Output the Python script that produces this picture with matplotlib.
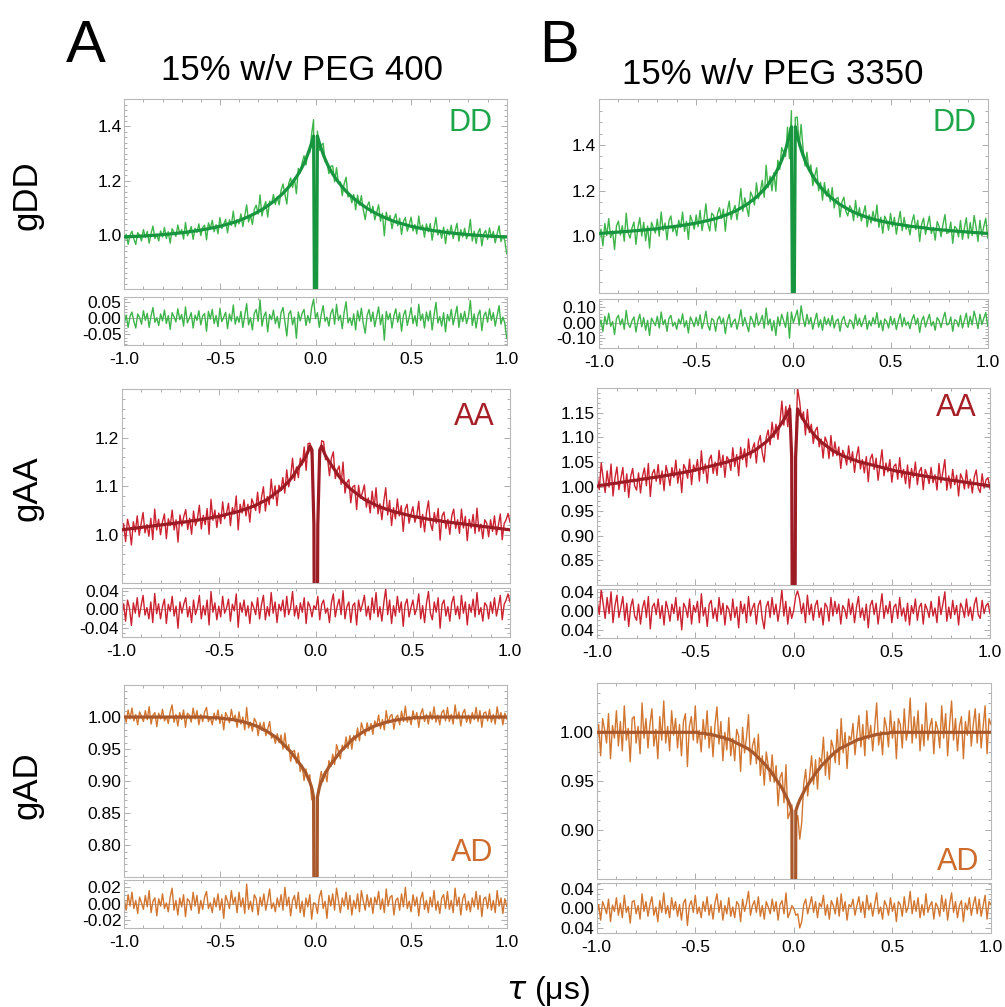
# -*- coding:utf-8 -*-
import numpy as np
import matplotlib.pyplot as plt
from matplotlib.ticker import MultipleLocator, FixedLocator, FixedFormatter, FormatStrFormatter

plt.rcParams['font.family'] = ['Liberation Sans', 'DejaVu Sans']
plt.rcParams['axes.unicode_minus'] = False  # 刻度上用普通的 "-"

# ---------------- 数据 ----------------
# 读图得到的值, 单位 1/1000: 拟合曲线 = 1 + ex/1000, 残差 = res/1000, 数据 = 拟合 + 残差
tau = np.linspace(-1, 1, 201)  # us, 步长 0.01

# DD, 15% PEG 400
ex_dd_a = [-7, -7, -6, -6, -6, -5, -5, -5, -4, -4,
           -4, -3, -3, -2, -2, -1, -1, 0, 0, 1,
           1, 2, 3, 3, 4, 5, 5, 6, 7, 8,
           8, 9, 10, 11, 12, 13, 14, 15, 16, 17,
           18, 20, 21, 22, 23, 25, 26, 28, 29, 31,
           32, 34, 36, 38, 40, 42, 44, 46, 48, 51,
           53, 56, 59, 62, 65, 68, 71, 75, 78, 82,
           86, 90, 94, 98, 103, 108, 113, 118, 123, 129,
           135, 141, 147, 154, 161, 169, 177, 186, 195, 204,
           214, 225, 237, 250, 264, 280, 298, 318, 340, 365,
           -1000,
           365, 340, 318, 298, 280, 264, 250, 237, 225, 214,
           204, 195, 186, 177, 169, 161, 154, 147, 141, 135,
           129, 123, 118, 113, 108, 103, 98, 94, 90, 86,
           82, 78, 75, 71, 68, 65, 62, 59, 56, 53,
           51, 48, 46, 44, 42, 40, 38, 36, 34, 32,
           31, 29, 28, 26, 25, 23, 22, 21, 20, 18,
           17, 16, 15, 14, 13, 12, 11, 10, 9, 8,
           8, 7, 6, 5, 5, 4, 3, 3, 2, 1,
           1, 0, 0, -1, -1, -2, -2, -3, -3, -4,
           -4, -4, -5, -5, -5, -6, -6, -6, -7, -7]
res_dd_a = [-15, 10, -28, 6, 20, -9, -30, 14, 3, -18,
            24, -6, 16, -28, 8, 34, -12, 2, -22, 14,
            -8, 26, -16, 9, -34, 18, 5, -11, 30, -4,
            12, -24, 36, -14, 0, 18, -30, 10, -6, 24,
            -20, 8, 15, -40, 22, -2, 28, -16, 9, -26,
            32, -10, 4, 19, -32, 14, -8, 42, -18, 6,
            -12, 22, -28, 10, 46, -20, 2, -36, 16, 28,
            -9, 58, -24, 7, 20, -42, 12, -4, 26, -16,
            6, -30, 18, 34, -10, -55, 14, 24, -20, 4,
            -62, 20, -8, 16, 28, -22, 9, -14, 34, 60,
            0, 18, -28, 12, 40, -9, 4, -24, 16, 30,
            -18, 44, -6, 10, -32, 20, 52, -14, 2, -22,
            14, -36, 24, -8, 32, -16, -46, 9, 28, -10,
            20, -26, 6, 36, -20, 12, -68, 22, -4, 16,
            -30, 8, 30, -12, 18, -40, 10, 26, -22, 4,
            34, -16, 9, -24, 44, -6, 14, -30, 20, -8,
            24, -36, 10, 50, -14, 6, -24, 18, -42, 12,
            -8, 28, -20, 9, 38, -28, 16, -10, 22, -16,
            6, 56, -22, 14, -30, 10, 26, -38, 8, 20,
            -12, 30, -6, 18, -24, 9, 40, -18, 4, -14,
            -62]

# DD, 15% PEG 3350
ex_dd_b = [12, 13, 13, 14, 15, 15, 16, 16, 17, 18,
           18, 19, 20, 20, 21, 22, 22, 23, 24, 24,
           25, 26, 27, 27, 28, 29, 30, 31, 31, 32,
           33, 34, 36, 37, 38, 39, 40, 41, 42, 43,
           44, 45, 47, 48, 49, 51, 52, 53, 55, 56,
           58, 60, 61, 63, 65, 67, 69, 71, 73, 75,
           78, 80, 83, 86, 89, 92, 95, 99, 102, 106,
           110, 114, 119, 124, 129, 134, 139, 145, 152, 158,
           165, 172, 180, 188, 197, 206, 216, 227, 238, 251,
           264, 279, 295, 313, 333, 355, 380, 410, 440, 480,
           -1000,
           480, 440, 410, 380, 355, 333, 313, 295, 279, 264,
           251, 238, 227, 216, 206, 197, 188, 180, 172, 165,
           158, 152, 145, 139, 134, 129, 124, 119, 114, 110,
           106, 102, 99, 95, 92, 89, 86, 83, 80, 78,
           75, 73, 71, 69, 67, 65, 63, 61, 60, 58,
           56, 55, 53, 52, 51, 49, 48, 47, 45, 44,
           43, 42, 41, 40, 39, 38, 37, 36, 34, 33,
           32, 31, 31, 30, 29, 28, 27, 27, 26, 25,
           24, 24, 23, 22, 22, 21, 20, 20, 19, 18,
           18, 17, 16, 16, 15, 15, 14, 13, 13, 12]
res_dd_b = [-35, 18, -55, 42, -12, 62, -22, 8, -75, 28,
            48, -14, 26, -42, 80, -8, -30, 14, 38, -60,
            12, 55, -26, 34, -48, 16, -82, 30, 6, -18,
            42, -34, 70, -12, 20, -55, 28, 48, -22, 4,
            -42, 25, -8, 58, -28, 14, -66, 38, 10, -25,
            35, -18, 52, -38, 8, 75, -14, -48, 28, 16,
            -55, 20, 42, -8, 30, -70, 14, 55, -28, 6,
            25, -42, 12, 85, -20, 34, -12, -58, 42, 16,
            -28, 62, -16, 8, 48, -35, 95, -14, 25, -52,
            14, -82, 38, -20, 55, 12, -30, 68, -100, 70,
            0, 40, 82, -16, 110, 28, -25, 55, -8, 34,
            -42, 14, 62, -28, 20, -48, 38, -12, 28, -20,
            48, -34, 12, 25, -55, 16, 42, -14, -30, 20,
            8, -38, 55, -16, 30, -25, 12, 48, -42, 14,
            -20, 34, -8, 66, -30, 16, -52, 25, 8, -34,
            42, -14, 28, -44, 12, 58, -25, 34, -16, 6,
            -38, 20, 52, -12, 30, -62, 14, 42, -28, 16,
            55, -20, 8, -48, 34, 14, -30, 25, 68, -14,
            -8, 38, -55, 20, 12, -25, 48, -34, 16, 62,
            -28, 42, -14, 75, 25, -38, 55, -12, 30, 66,
            -20]

# AA, 15% PEG 400
ex_aa_a = [10, 11, 11, 12, 12, 13, 13, 14, 14, 15,
           15, 16, 16, 17, 17, 18, 18, 19, 19, 20,
           20, 21, 21, 22, 22, 23, 23, 24, 24, 25,
           25, 26, 26, 27, 27, 28, 29, 29, 30, 30,
           31, 32, 32, 33, 34, 34, 35, 36, 37, 37,
           38, 39, 40, 41, 42, 43, 44, 45, 46, 47,
           48, 49, 51, 52, 53, 55, 56, 58, 59, 61,
           63, 65, 67, 69, 71, 73, 76, 79, 82, 85,
           88, 91, 94, 98, 102, 106, 110, 115, 120, 126,
           132, 138, 144, 150, 156, 163, 172, 183, 175, 20,
           -1000,
           20, 175, 183, 172, 163, 156, 150, 144, 138, 132,
           126, 120, 115, 110, 106, 102, 98, 94, 91, 88,
           85, 82, 79, 76, 73, 71, 69, 67, 65, 63,
           61, 59, 58, 56, 55, 53, 52, 51, 49, 48,
           47, 46, 45, 44, 43, 42, 41, 40, 39, 38,
           37, 37, 36, 35, 34, 34, 33, 32, 32, 31,
           30, 30, 29, 29, 28, 27, 27, 26, 26, 25,
           25, 24, 24, 23, 23, 22, 22, 21, 21, 20,
           20, 19, 19, 18, 18, 17, 17, 16, 16, 15,
           15, 14, 14, 13, 13, 12, 12, 11, 11, 10]
res_aa_a = [-14, 12, -25, 20, 3, -34, 14, -8, 25, -16,
            8, 30, -12, 4, -20, 16, -28, 34, -9, 12,
            -20, 6, 22, -30, 11, -4, 28, -14, 7, -40,
            16, -8, 12, 25, -16, 6, -28, 20, -11, 3,
            30, -20, 8, -12, 20, -33, 38, -6, 14, -22,
            7, -16, 28, -8, 3, 22, -25, 11, -3, 33,
            -38, 14, -6, 20, -14, 8, -30, 16, 4, -11,
            25, -20, 10, 30, -22, 6, -14, 36, -8, 16,
            -28, 11, -3, 20, -16, 28, -11, 4, 38, -14,
            8, -20, 14, -6, 25, -30, 16, 6, -16, 8,
            0, 28, -22, 11, 20, -8, 3, -28, 14, 33,
            -16, 7, 22, -11, 40, -20, 6, 16, -28, 8,
            14, -33, 20, -4, 11, 30, -14, 7, -22, 25,
            -8, 36, -16, 6, -25, 14, 44, -11, 20, -30,
            8, -14, 28, -6, 16, -36, 11, 22, -16, 4,
            20, -11, 3, 33, -20, 8, -28, 14, 38, -8,
            -22, 16, -6, 25, -40, 11, 20, -14, 6, -25,
            14, 28, -11, 7, -20, 30, -8, 16, -33, 11,
            -6, 22, -16, 36, -11, 4, -25, 14, 8, -20,
            16, -8, 25, -14, 6, 30, -22, 11, 20, 33,
            16]

# AA, 15% PEG 3350
ex_aa_b = [1, 2, 3, 3, 4, 4, 5, 6, 6, 7,
           7, 8, 9, 9, 10, 10, 11, 12, 12, 13,
           13, 14, 15, 15, 16, 16, 17, 18, 18, 19,
           19, 20, 21, 21, 22, 23, 23, 24, 25, 25,
           26, 27, 28, 28, 29, 30, 31, 31, 32, 33,
           34, 35, 36, 37, 38, 39, 40, 41, 42, 43,
           44, 45, 46, 47, 48, 49, 50, 51, 53, 54,
           55, 57, 58, 60, 61, 63, 65, 67, 69, 71,
           73, 76, 79, 82, 85, 88, 91, 95, 99, 103,
           108, 113, 118, 124, 130, 136, 143, 150, 158, 60,
           -1000,
           60, 158, 150, 143, 136, 130, 124, 118, 113, 108,
           103, 99, 95, 91, 88, 85, 82, 79, 76, 73,
           71, 69, 67, 65, 63, 61, 60, 58, 57, 55,
           54, 53, 51, 50, 49, 48, 47, 46, 45, 44,
           43, 42, 41, 40, 39, 38, 37, 36, 35, 34,
           33, 32, 31, 31, 30, 29, 28, 28, 27, 26,
           25, 25, 24, 23, 23, 22, 21, 21, 20, 19,
           19, 18, 18, 17, 16, 16, 15, 15, 14, 13,
           13, 12, 12, 11, 10, 10, 9, 9, 8, 7,
           7, 6, 6, 5, 4, 4, 3, 3, 2, 1]
res_aa_b = [20, -8, 45, 14, -16, 28, -6, 40, -25, 11,
            33, -14, 7, 30, -20, 16, -33, 8, 25, -11,
            -20, 14, -28, 6, 22, -14, 30, -38, 8, 16,
            -8, 25, -16, 11, -30, 20, 3, -22, 14, -6,
            28, -20, 8, -40, 16, 6, -14, 25, -28, 11,
            -3, 20, -25, 36, -11, 7, -33, 14, 22, -16,
            6, -22, 28, -8, 16, -30, 11, 3, -20, 25,
            -14, 8, -36, 20, -6, 14, -25, 30, -11, 6,
            16, -28, 11, 22, -16, -38, 8, 20, -14, 28,
            -8, 14, -22, 6, 44, -11, 20, -28, 8, -16,
            0, 30, 42, 25, -6, 16, -25, 33, -8, 14,
            -20, 11, 22, -14, 6, -30, 16, 8, -22, 28,
            -11, 20, -6, 14, -28, 11, 3, -16, 25, -8,
            16, -25, 8, 30, -14, 6, -20, 14, -36, 11,
            22, -8, 16, -28, 6, 36, -16, 11, -6, 20,
            -25, 8, 14, -16, 28, -11, 6, -22, 16, -30,
            11, -6, 25, -20, 8, 16, -28, 14, 3, -14,
            20, -11, 6, -25, 30, -8, 14, 40, -22, 8,
            -16, 22, -8, 11, -30, 16, 6, -14, 25, -11,
            8, -20, 14, 28, -8, -16, 22, -6, 11, 16,
            -6]

# AD, 15% PEG 400
ex_ad_a = [0, 0, 0, 0, 0, 0, 0, 0, 0, 0,
           0, 0, 0, 0, 0, 0, 0, 0, 0, 0,
           0, 0, 0, 0, 0, 0, 0, 0, 0, 0,
           0, 0, 0, 0, 0, 0, 0, 0, 0, 0,
           0, 0, 0, 0, -1, -1, -1, -1, -1, -1,
           -2, -2, -2, -3, -3, -3, -4, -4, -5, -5,
           -6, -7, -7, -8, -9, -10, -11, -12, -13, -14,
           -15, -17, -18, -20, -21, -23, -25, -27, -29, -31,
           -33, -36, -39, -42, -45, -48, -51, -54, -58, -62,
           -66, -70, -74, -78, -83, -88, -94, -101, -110, -125,
           -1000,
           -125, -110, -101, -94, -88, -83, -78, -74, -70, -66,
           -62, -58, -54, -51, -48, -45, -42, -39, -36, -33,
           -31, -29, -27, -25, -23, -21, -20, -18, -17, -15,
           -14, -13, -12, -11, -10, -9, -8, -7, -7, -6,
           -5, -5, -4, -4, -3, -3, -3, -2, -2, -2,
           -1, -1, -1, -1, -1, -1, 0, 0, 0, 0,
           0, 0, 0, 0, 0, 0, 0, 0, 0, 0,
           0, 0, 0, 0, 0, 0, 0, 0, 0, 0,
           0, 0, 0, 0, 0, 0, 0, 0, 0, 0,
           0, 0, 0, 0, 0, 0, 0, 0, 0, 0]
res_ad_a = [5, -8, 11, -3, 14, -6, 4, -12, 8, 1,
            -7, 10, -4, 16, -11, 3, 7, -15, 6, -3,
            12, -6, 1, -10, 8, 19, -8, 4, -14, 7,
            -4, 11, -16, 6, 3, -8, 14, -3, 10, -12,
            4, -7, 8, 15, -6, 1, -11, 7, -4, 12,
            -8, 6, -18, 10, 3, -6, 16, -1, 8, -11,
            14, -4, 7, -12, 24, -7, 3, -10, 11, 6,
            -14, 8, -3, 12, -8, 4, 18, -6, 1, -10,
            7, -4, 11, -8, 20, -3, 8, -15, 4, 10,
            -6, 14, -11, 3, -16, 7, -4, 11, -19, 1,
            0, -12, 8, 16, -6, 3, -18, 10, -3, 12,
            -8, 19, 4, -11, 7, -3, 14, -7, 10, -14,
            4, -6, 12, -10, 16, 3, -8, 11, -4, 7,
            -12, 8, -1, 15, -7, 6, -11, 18, -3, 8,
            10, -14, 4, 7, -8, 12, -4, 20, -6, 3,
            -10, 11, -3, 8, -15, 6, 14, -7, 4, -11,
            8, -4, 16, -8, 3, -12, 7, 11, -6, 15,
            -7, 4, -11, 19, -3, 8, -14, 6, 12, -8,
            3, -10, 7, -4, 15, -7, 10, -16, 6, 8,
            -6, 12, -8, 4, -11, 16, -3, 7, -12, 6,
            -3]

# AD, 15% PEG 3350
ex_ad_b = [0, 0, 0, 0, 0, 0, 0, 0, 0, 0,
           0, 0, 0, 0, 0, 0, 0, 0, 0, 0,
           0, 0, 0, 0, 0, 0, 0, 0, 0, 0,
           0, 0, 0, 0, 0, 0, 0, 0, 0, 0,
           0, 0, 0, 0, 0, 0, 0, 0, 0, 0,
           0, 0, -1, -1, -1, -1, -2, -2, -2, -3,
           -3, -4, -4, -5, -5, -6, -7, -7, -8, -9,
           -10, -11, -12, -13, -14, -15, -16, -17, -19, -20,
           -22, -24, -26, -28, -30, -32, -34, -37, -39, -42,
           -45, -48, -51, -54, -57, -61, -65, -69, -74, -80,
           -1000,
           -80, -74, -69, -65, -61, -57, -54, -51, -48, -45,
           -42, -39, -37, -34, -32, -30, -28, -26, -24, -22,
           -20, -19, -17, -16, -15, -14, -13, -12, -11, -10,
           -9, -8, -7, -7, -6, -5, -5, -4, -4, -3,
           -3, -2, -2, -2, -1, -1, -1, -1, 0, 0,
           0, 0, 0, 0, 0, 0, 0, 0, 0, 0,
           0, 0, 0, 0, 0, 0, 0, 0, 0, 0,
           0, 0, 0, 0, 0, 0, 0, 0, 0, 0,
           0, 0, 0, 0, 0, 0, 0, 0, 0, 0,
           0, 0, 0, 0, 0, 0, 0, 0, 0, 0]
res_ad_b = [-16, 8, -24, 14, 3, -11, 19, -27, 7, -6,
            22, -14, 11, -19, 27, -8, 4, -30, 14, 16,
            -11, 6, -22, 30, -6, 14, -16, 8, 24, -14,
            3, -27, 16, -8, 32, -11, 6, -19, 22, -3,
            14, -16, 8, -24, 11, 19, -35, 6, 16, -8,
            27, -11, 3, -19, 14, -6, 24, -14, 8, -22,
            11, 30, -8, 16, -24, 6, -11, 22, -16, 3,
            -19, 14, 8, -27, 19, -6, 11, 35, -14, 6,
            16, -8, 24, -16, 6, -22, 14, 3, -11, 19,
            -6, 14, -24, 8, 16, -11, 32, -19, -8, 6,
            0, -14, -11, -40, -27, 8, 19, -11, 6, 24,
            -8, 14, -19, 11, 3, 27, -14, 8, -22, 16,
            6, -11, 22, -16, 30, -6, 14, -24, 8, 3,
            19, -14, 6, 24, -8, 14, -19, 27, -3, 11,
            -16, 8, 32, -11, 3, -22, 16, 6, -14, 22,
            -6, 11, -27, 14, 8, -16, 24, -8, 3, 35,
            -11, 16, -6, 22, -19, 8, -14, 30, -8, 6,
            14, -22, 11, 3, -16, 27, -6, 19, -24, 8,
            32, -8, 14, -19, 6, 16, -27, 11, -3, 22,
            -14, 8, 24, -11, 19, -16, 6, 27, -22, 14,
            8]

x_ticks = [-1.0, -0.5, 0.0, 0.5, 1.0]

# 颜色: (数据, 拟合, 标签)
green = ('#3db54a', '#17963f', '#1ea64b')
red = ('#cc2230', '#9c1b24', '#a61e26')
orange = ('#d2762f', '#a8582b', '#cd6c2c')

# ---------------- 画图 ----------------
W, H = 1005, 1007
fig = plt.figure(figsize=(W / 100, H / 100), dpi=100)


def box(x0, x1, y0, y1):
    # 像素坐标(左上为原点) -> figure 坐标
    return [x0 / W, 1 - y1 / H, (x1 - x0) / W, (y1 - y0) / H]


panels = [
    dict(ex=ex_dd_a, res=res_dd_a, col=green, tag='DD', xs=(124.3, 506.7), main=(99.3, 289.3), sub=(297.3, 345.0),
         ylim=(0.8, 1.5), yt=[1.0, 1.2, 1.4], yl=['1.0', '1.2', '1.4'], ym=0.02,
         rlim=(-0.083, 0.066), rt=[-0.05, 0.0, 0.05], rl=['-0.05', '0.00', '0.05'], rm=0.01,
         tag_xy=(0.964, 0.955), tag_va='top'),
    dict(ex=ex_dd_b, res=res_dd_b, col=green, tag='DD', xs=(599.0, 987.7), main=(99.3, 293.3), sub=(299.3, 348.3),
         ylim=(0.75, 1.6), yt=[1.0, 1.2, 1.4], yl=['1.0', '1.2', '1.4'], ym=0.05,
         rlim=(-0.165, 0.152), rt=[-0.1, 0.0, 0.1], rl=['-0.10', '0.00', '0.10'], rm=0.02,
         tag_xy=(0.972, 0.955), tag_va='top'),
    dict(ex=ex_aa_a, res=res_aa_a, col=red, tag='AA', xs=(121.7, 510.0), main=(389.3, 583.3), sub=(588.3, 636.7),
         ylim=(0.9, 1.3), yt=[1.0, 1.1, 1.2], yl=['1.0', '1.1', '1.2'], ym=0.02,
         rlim=(-0.058, 0.045), rt=[-0.04, 0.0, 0.04], rl=['-0.04', '0.00', '0.04'], rm=0.01,
         tag_xy=(0.961, 0.936), tag_va='top'),
    dict(ex=ex_aa_b, res=res_aa_b, col=red, tag='AA', xs=(597.3, 990.0), main=(388.3, 585.0), sub=(589.0, 638.3),
         ylim=(0.8, 1.2), yt=[0.85, 0.90, 0.95, 1.00, 1.05, 1.10, 1.15],
         yl=['0.85', '0.90', '0.95', '1.00', '1.05', '1.10', '1.15'], ym=0.01,
         rlim=(-0.058, 0.046), rt=[-0.04, 0.0, 0.04], rl=['0.04', '0.00', '0.04'], rm=0.01,
         tag_xy=(0.967, 0.976), tag_va='top'),
    dict(ex=ex_ad_a, res=res_ad_a, col=orange, tag='AD', xs=(124.3, 506.7), main=(685.0, 877.3), sub=(880.0, 927.7),
         ylim=(0.75, 1.05), yt=[0.80, 0.85, 0.90, 0.95, 1.00], yl=['0.80', '0.85', '0.90', '0.95', '1.00'], ym=0.01,
         rlim=(-0.0295, 0.029), rt=[-0.02, 0.0, 0.02], rl=['-0.02', '0.00', '0.02'], rm=0.005,
         tag_xy=(0.964, 0.085), tag_va='baseline'),
    dict(ex=ex_ad_b, res=res_ad_b, col=orange, tag='AD', xs=(596.7, 991.0), main=(683.3, 879.3), sub=(883.3, 933.3),
         ylim=(0.85, 1.05), yt=[0.90, 0.95, 1.00], yl=['0.90', '0.95', '1.00'], ym=0.01,
         rlim=(-0.051, 0.0516), rt=[-0.04, 0.0, 0.04], rl=['0.04', '0.00', '0.04'], rm=0.01,
         tag_xy=(0.970, 0.047), tag_va='baseline'),
]


def frame(ax):
    # Mathematica 风格的浅灰色边框, 刻度朝里
    for s in ax.spines.values():
        s.set_color('#b8b8b8')
        s.set_linewidth(0.8)
    ax.tick_params(which='both', direction='in', top=True, right=True,
                   color='#a0a0a0', width=0.6, labelsize=12.5, pad=2)
    ax.tick_params(which='major', length=4)
    ax.tick_params(which='minor', length=2)
    ax.set_xlim(-1, 1)
    ax.xaxis.set_major_locator(FixedLocator(x_ticks))
    ax.xaxis.set_minor_locator(MultipleLocator(0.1))


for p in panels:
    fit = 1 + np.array(p['ex']) / 1000
    res = np.array(p['res']) / 1000
    data = fit + res
    c_data, c_fit, c_tag = p['col']

    ax = fig.add_axes(box(p['xs'][0], p['xs'][1], *p['main']))
    ax.plot(tau, data, color=c_data, lw=1.0, zorder=2)
    ax.plot(tau, fit, color=c_fit, lw=2.3, zorder=3)
    frame(ax)
    ax.set_ylim(*p['ylim'])
    ax.yaxis.set_major_locator(FixedLocator(p['yt']))
    ax.yaxis.set_major_formatter(FixedFormatter(p['yl']))
    ax.yaxis.set_minor_locator(MultipleLocator(p['ym']))
    ax.tick_params(labelbottom=False)
    ax.text(p['tag_xy'][0], p['tag_xy'][1], p['tag'], transform=ax.transAxes,
            ha='right', va=p['tag_va'], fontsize=22, color=c_tag)

    # 残差
    rx = fig.add_axes(box(p['xs'][0], p['xs'][1], *p['sub']))
    rx.axhline(0, color='#b0b0b0', lw=0.7, zorder=1)
    rx.plot(tau, res, color=c_data, lw=1.0, zorder=2)
    frame(rx)
    rx.set_ylim(*p['rlim'])
    rx.yaxis.set_major_locator(FixedLocator(p['rt']))
    rx.yaxis.set_major_formatter(FixedFormatter(p['rl']))
    rx.yaxis.set_minor_locator(MultipleLocator(p['rm']))
    rx.xaxis.set_major_formatter(FormatStrFormatter('%.1f'))
    rx.tick_params(axis='x', pad=5)

# 文字
fig.text(86 / W, 1 - 47 / H, 'A', ha='center', va='center', fontsize=43)
fig.text(559 / W, 1 - 47 / H, 'B', ha='center', va='center', fontsize=43)
fig.text(302 / W, 1 - 70 / H, '15% w/v PEG 400', ha='center', va='center', fontsize=25)
fig.text(773 / W, 1 - 75 / H, '15% w/v PEG 3350', ha='center', va='center', fontsize=25)
for lab, yc in [('gDD', 195), ('gAA', 488), ('gAD', 785)]:
    fig.text(27 / W, 1 - yc / H, lab, rotation=90, ha='center', va='center', fontsize=25)
fig.text(548 / W, 1 - 991 / H, r'$\tau$ (μs)', ha='center', va='center', fontsize=23)

fig.savefig('out.png', dpi=100)
